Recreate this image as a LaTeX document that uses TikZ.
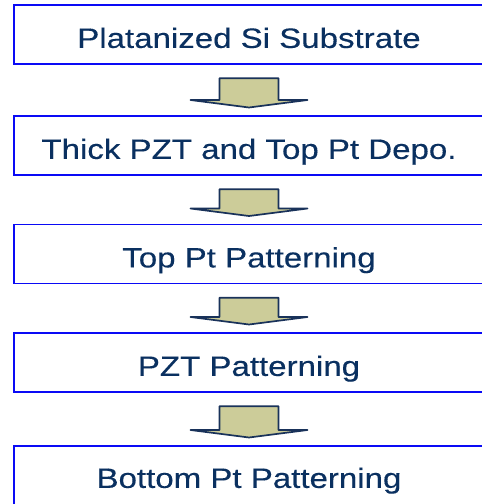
\documentclass[tikz,border=0pt]{standalone}
\usepackage{fontspec}
\newfontfamily\boxfont[FakeStretch=1.18,FakeBold=0.3]{Liberation Sans}
\usetikzlibrary{calc}
\definecolor{boxblue}{RGB}{10,10,245}
\definecolor{txtnavy}{RGB}{10,48,96}
\definecolor{arrfill}{RGB}{204,204,153}
\definecolor{arrline}{RGB}{25,50,90}
\tikzset{
  stepbox/.style={draw=boxblue, line width=1.8pt, minimum width=470pt, minimum height=59pt,
    inner sep=0pt, text height=43pt, text depth=16pt, anchor=north,
    font=\boxfont\fontsize{28}{34}\selectfont, text=txtnavy},
  flowarr/.style={draw=arrline, fill=arrfill, line width=1.7pt, line join=round}
}
\newcommand\flowarrow[2]{%
  \draw[flowarr] let \p1=(#1.south), \p2=(#2.north) in
    (\x1-29.5pt,\y1-13.5pt) -- (\x1+29.5pt,\y1-13.5pt) -- (\x1+29.5pt,\y2+15pt)
    -- (\x1+58.5pt,\y2+15pt) -- (\x1,\y2+7.5pt) -- (\x1-58.5pt,\y2+15pt)
    -- (\x1-29.5pt,\y2+15pt) -- cycle;}
\begin{document}
\begin{tikzpicture}[x=1pt,y=-1pt]
\useasboundingbox (0,0) rectangle (482,504);
\fill[white] (0,0) rectangle (482,504);
\node[stepbox] (b1) at (249,4) {Platanized Si Substrate};
\node[stepbox] (b2) at (249,115) {Thick PZT and Top Pt Depo.};
\node[stepbox] (b3) at (249,223.5) {Top Pt Patterning};
\node[stepbox] (b4) at (249,332) {PZT Patterning};
\node[stepbox, minimum height=62pt, text height=42pt, text depth=20pt] (b5) at (249,445) {Bottom Pt Patterning};
\flowarrow{b1}{b2}
\flowarrow{b2}{b3}
\flowarrow{b3}{b4}
\flowarrow{b4}{b5}
\end{tikzpicture}
\end{document}
